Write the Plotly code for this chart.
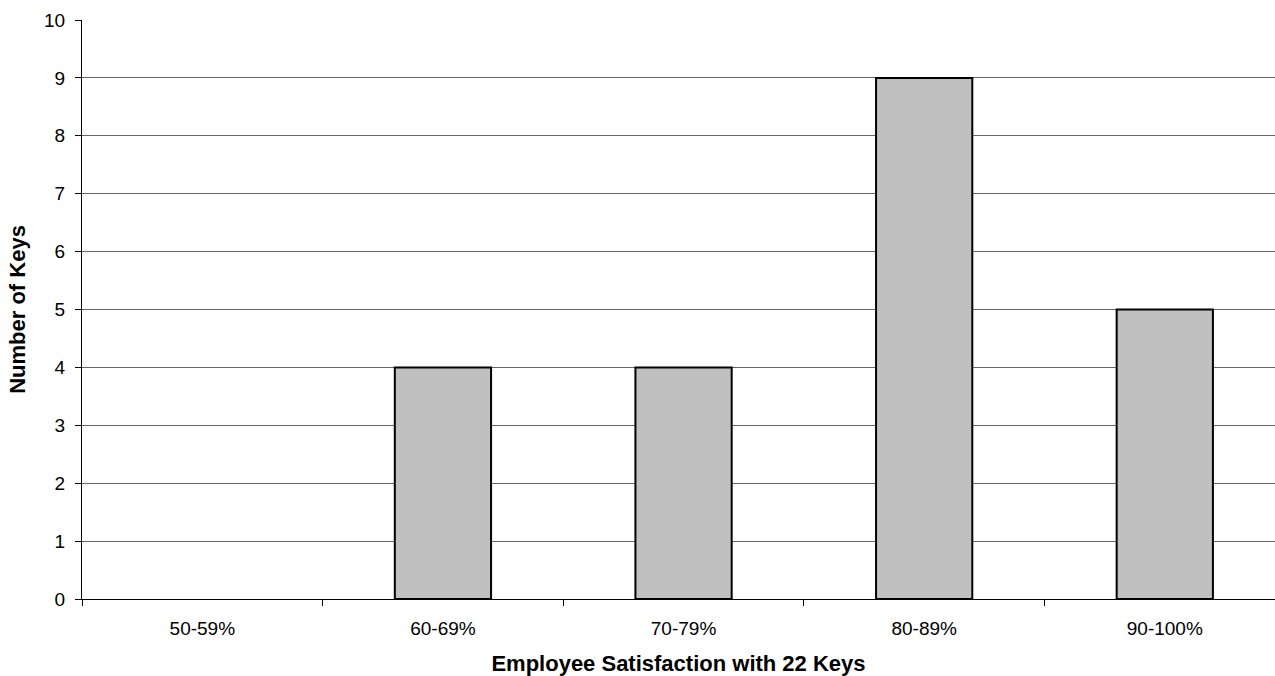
import plotly.graph_objects as go

categories = ["50-59%", "60-69%", "70-79%", "80-89%", "90-100%"]
num_keys = [0, 4, 4, 9, 5]

# empty bins get no outline so nothing is drawn on the baseline
outline_widths = [2 if v > 0 else 0 for v in num_keys]

fig = go.Figure(
    go.Bar(
        x=categories,
        y=num_keys,
        width=0.4,
        marker=dict(color="#C0C0C0", line=dict(color="#000000", width=outline_widths)),
    )
)

font = "Liberation Sans, Arial, sans-serif"
fig.update_layout(
    width=1275,
    height=676,
    margin=dict(l=82, r=0, t=20, b=77),
    plot_bgcolor="white",
    paper_bgcolor="white",
    showlegend=False,
    font=dict(family=font, size=19, color="#000000"),
)
fig.update_xaxes(
    range=[-0.5, 4.458],
    tickson="boundaries",
    ticks="outside",
    ticklen=6,
    tickcolor="#000000",
    showline=True,
    linecolor="#000000",
    linewidth=1,
    showgrid=False,
    tickfont=dict(size=19),
    ticklabelstandoff=12,
    title=dict(text="<b>Employee Satisfaction with 22 Keys</b>", font=dict(size=22), standoff=17),
)
fig.update_yaxes(
    range=[0, 10],
    dtick=1,
    ticks="outside",
    ticklen=6,
    tickcolor="#000000",
    showline=True,
    linecolor="#000000",
    linewidth=1,
    showgrid=True,
    gridcolor="#666666",
    gridwidth=1,
    zeroline=False,
    tickfont=dict(size=19),
    ticklabelstandoff=6,
    title=dict(text="<b>Number of Keys</b>", font=dict(size=22), standoff=12),
)

fig.write_html("out.html")
